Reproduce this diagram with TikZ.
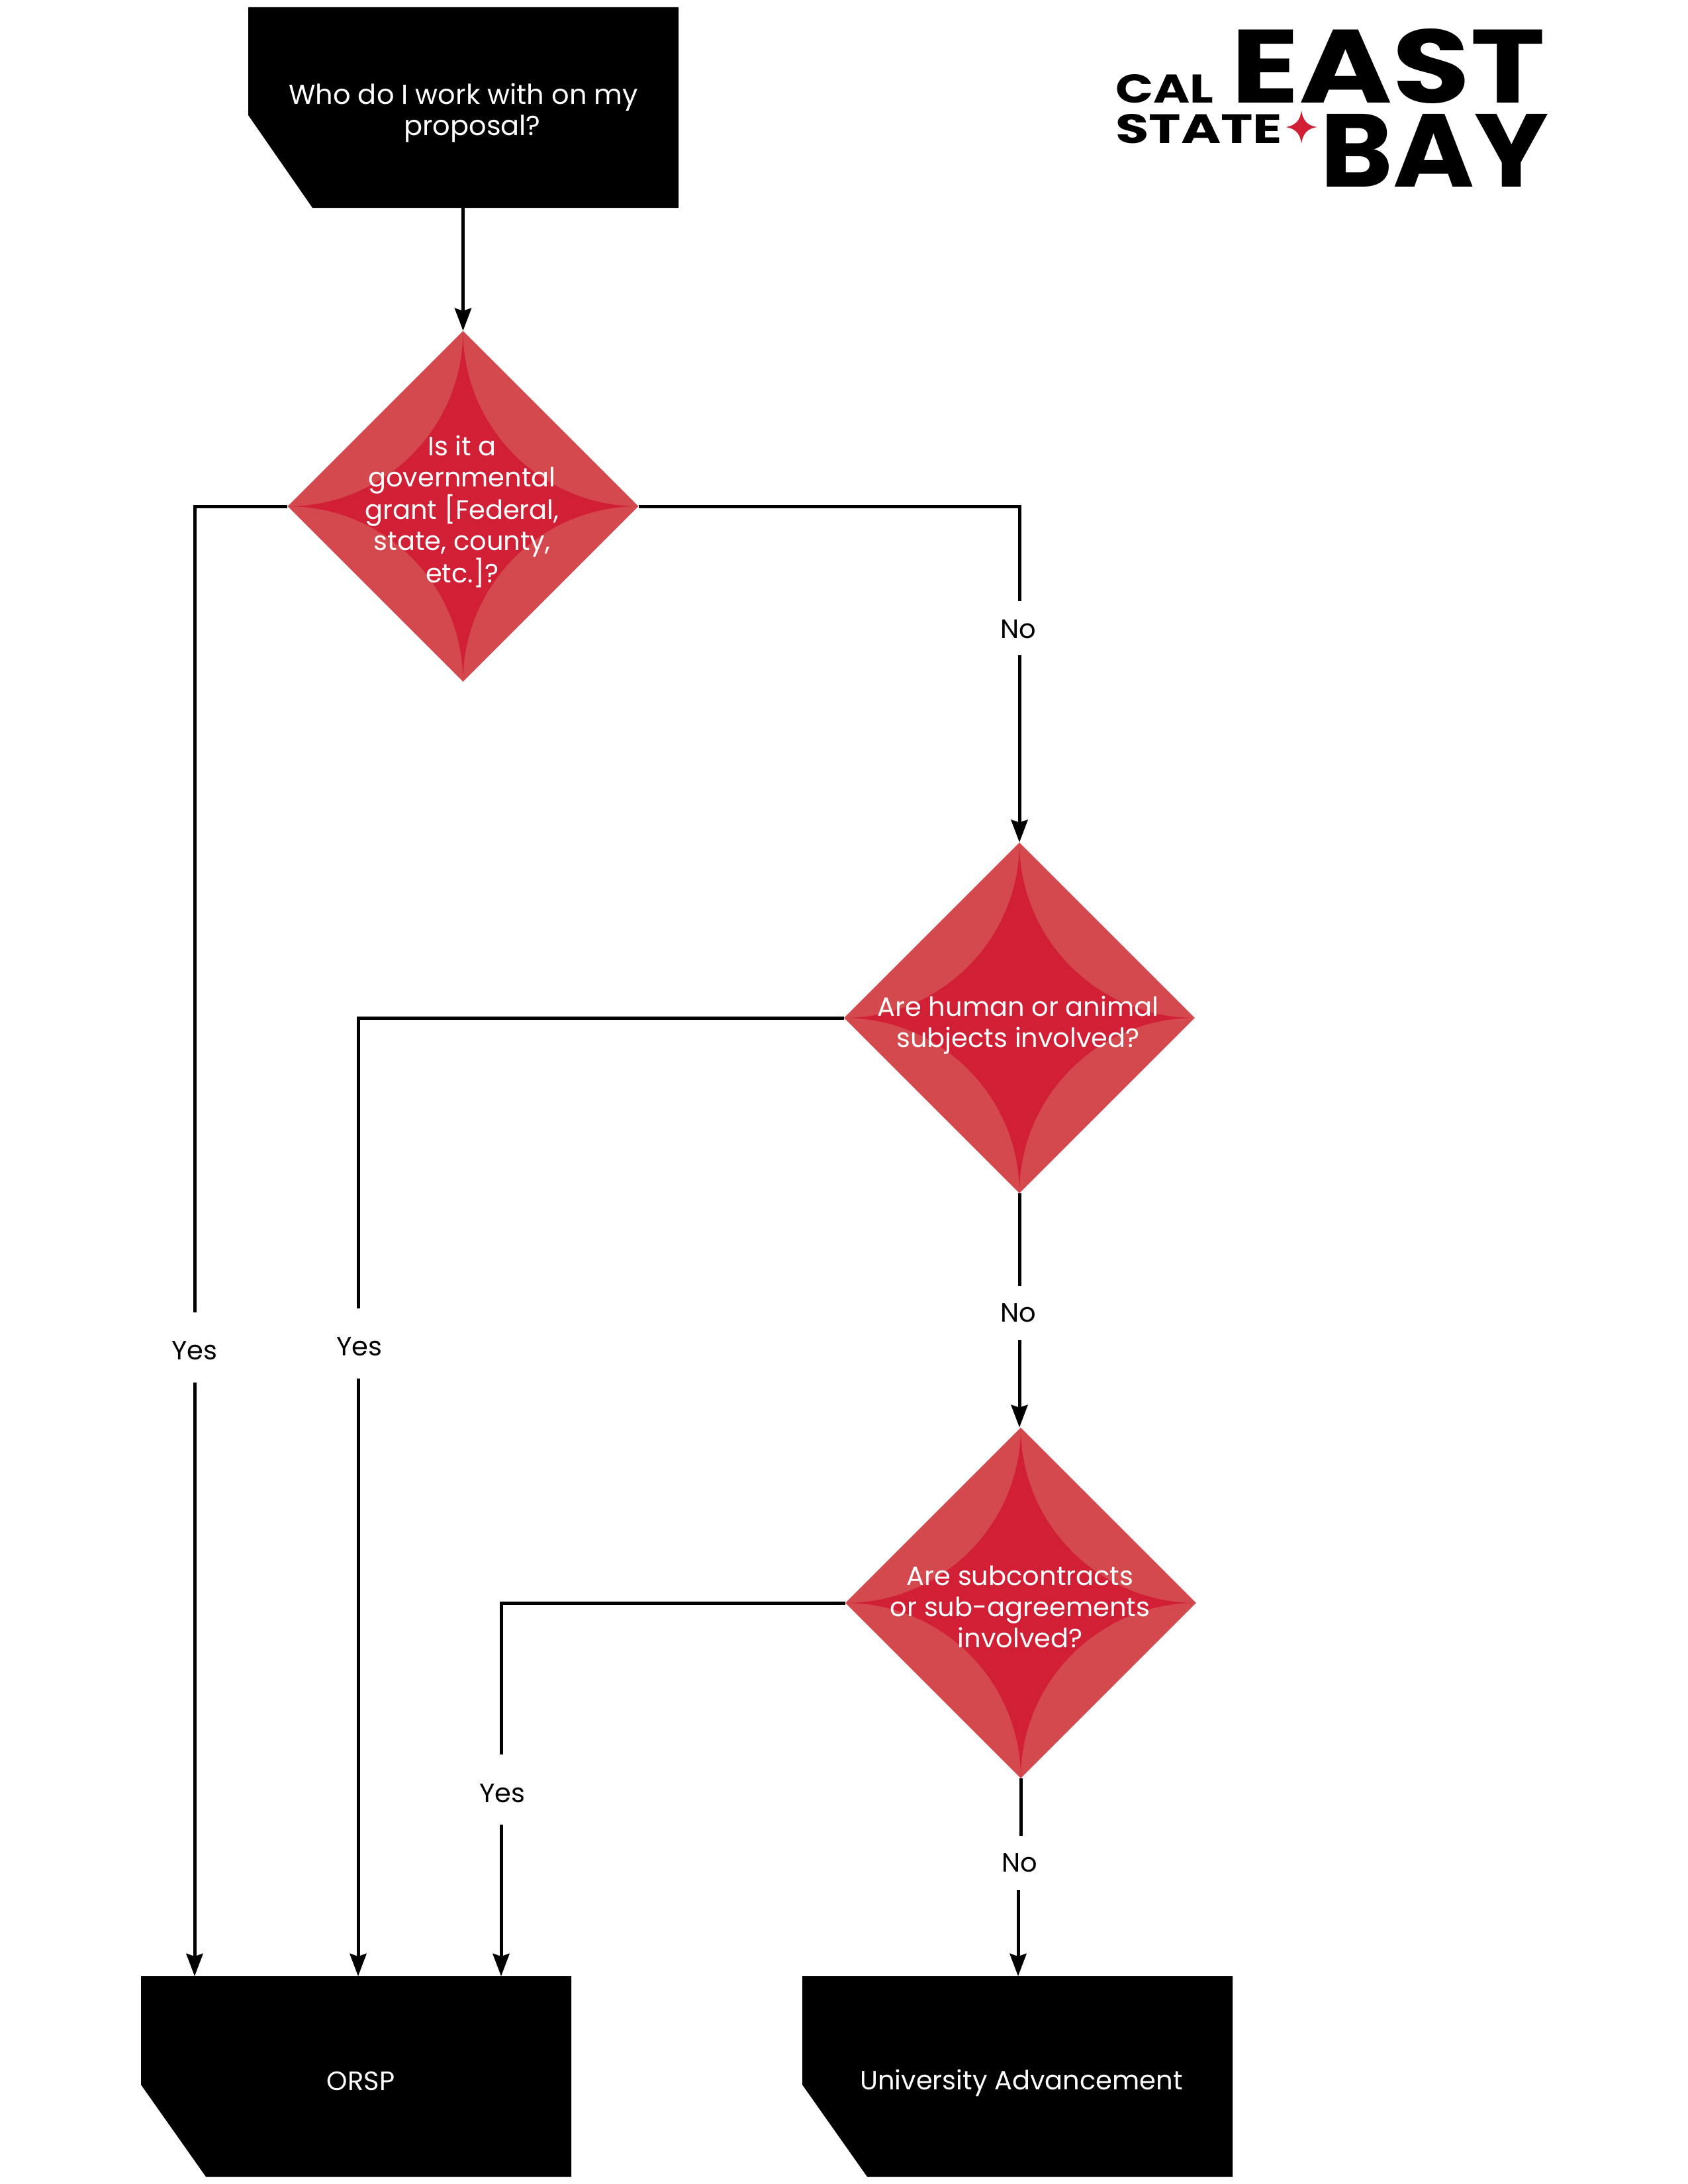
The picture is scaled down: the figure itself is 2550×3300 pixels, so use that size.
\documentclass[tikz,border=0pt]{standalone}
\usepackage{fontspec}
\usepackage{graphicx}
\setmainfont{Poppins}
\usetikzlibrary{shapes.geometric,arrows.meta,calc}
\definecolor{starred}{HTML}{D11F35}
\definecolor{lightred}{HTML}{D4494E}
\tikzset{
  x=1pt,y=-1pt,
  conn/.style={line width=5pt,draw=black,-{Stealth[length=34pt,width=25pt,inset=4pt]}},
  plainconn/.style={line width=5pt,draw=black},
  lbl/.style={fill=white,inner xsep=6pt,inner ysep=0pt,text=black,font=\fontsize{40}{48}\selectfont},
  yeslbl/.style={lbl,minimum height=106pt},
  nolbl/.style={lbl,minimum height=82pt},
  lbltext/.style={text=black,inner sep=0pt,font=\fontsize{40}{48}\selectfont},
  decision/.style={shape=diamond,aspect=1,inner sep=0pt,minimum width=530pt,minimum height=530pt,fill=lightred,
    path picture={
      \fill[starred,shift={(path picture bounding box.center)}]
        (0,265) .. controls (0,118.6) and (118.6,0) .. (265,0)
        .. controls (118.6,0) and (0,-118.6) .. (0,-265)
        .. controls (0,-118.6) and (-118.6,0) .. (-265,0)
        .. controls (-118.6,0) and (0,118.6) .. cycle;
    }},
  qtext/.style={text=white,align=center,font=\fontsize{40}{47}\selectfont,inner sep=0pt},
  btext/.style={text=white,align=center,font=\fontsize{40}{47}\selectfont,inner sep=0pt},
  logotext/.style={inner sep=0pt,anchor=north west,font=\bfseries}
}
\newcommand{\logofit}[3]{\resizebox{#1pt}{#2pt}{#3}}
\begin{document}
\begin{tikzpicture}
\useasboundingbox (0,0) rectangle (2550,3300);
% boxes
\fill[black] (375,11) -- (1025,11) -- (1025,314) -- (472,314) -- (375,174) -- cycle;
\fill[black] (213,2986) -- (863,2986) -- (863,3289) -- (311,3289) -- (213,3150) -- cycle;
\fill[black] (1212,2986) -- (1862,2986) -- (1862,3289) -- (1310,3289) -- (1212,3150) -- cycle;
\node[btext,font=\fontsize{41.5}{47}\selectfont] (start) at (700,171) {Who do I work with on my\\\hspace*{27pt}proposal?};
\node[btext] (orsp) at (545,3144) {ORSP};
\node[btext] (ua) at (1543,3147) {University Advancement};
\coordinate (ostart) at (699.5,314);
% decisions
\node[decision] (d1) at (699.5,765) {};
\node[decision] (d2) at (1540,1538) {};
\node[decision] (d3) at (1542,2422) {};
\node[qtext] (t1) at (698,773) {Is it a\\governmental\\grant [Federal,\\state, county,\\etc.]?};
\node[qtext] (t2) at (1538,1549) {Are human or animal\\subjects involved?};
\node[qtext] (t3) at (1541,2428) {Are subcontracts\\or sub-agreements\\involved?};
% endpoints on boxes
\coordinate (o1) at (294,2986);
\coordinate (o2) at (541,2986);
\coordinate (o3) at (757,2986);
\coordinate (u1) at (1538,2986);
% label gaps
\node[yeslbl] (l1) at (294,2036) {};
\node[yeslbl] (l2) at (541,2030) {};
\node[yeslbl] (l3) at (757,2704) {};
\node[nolbl] (n1) at (1538,949) {};
\node[nolbl] (n2) at (1538,1984) {};
\node[nolbl] (n3) at (1540,2815) {};
% connectors
\draw[conn] (ostart) -- (d1.north);
\draw[conn] (d1.west) -| (o1);
\draw[conn] (d1.east) -| (d2.north);
\draw[conn] (d2.west) -| (o2);
\draw[conn] (d2.south) -- (d2.south |- d3.north);
\draw[conn] (d3.west) -| (o3);
\draw[plainconn] (d3.south) -- (d3.south |- n3.north);
\draw[conn] (n3.south -| u1) -- (u1);
% gaps over the connectors, then label texts
\fill[white] (l1.south west) rectangle (l1.north east);
\fill[white] (l2.south west) rectangle (l2.north east);
\fill[white] (l3.south west) rectangle (l3.north east);
\fill[white] (n1.south west) rectangle (n1.north east);
\fill[white] (n2.south west) rectangle (n2.north east);
\fill[white] (n3.south west) rectangle (n3.north east);
\node[lbltext] (tl1) at ($(l1)+(0,5)$) {Yes};
\node[lbltext] (tl2) at ($(l2)+(2,5)$) {Yes};
\node[lbltext] (tl3) at ($(l3)+(2,6)$) {Yes};
\node[lbltext] (tn1) at ($(n1)+(0,2)$) {No};
\node[lbltext] (tn2) at (n2) {No};
\node[lbltext] (tn3) at (n3) {No};
% logo
\node[logotext] (east) at (1859,43) {\logofit{475}{112}{EAST}};
\node[logotext] (bay) at (1994,172) {\logofit{345}{110}{BAY}};
\node[logotext] (cal) at (1685,112) {\logofit{148}{43}{CAL}};
\node[logotext] (state) at (1685,172) {\logofit{252}{44}{STATE}};
\fill[starred] (1966,167) .. controls (1968,182) and (1975,190) .. (1990,192)
  .. controls (1975,194) and (1968,202) .. (1966,217)
  .. controls (1964,202) and (1957,194) .. (1942,192)
  .. controls (1957,190) and (1964,182) .. cycle;
\end{tikzpicture}
\end{document}
